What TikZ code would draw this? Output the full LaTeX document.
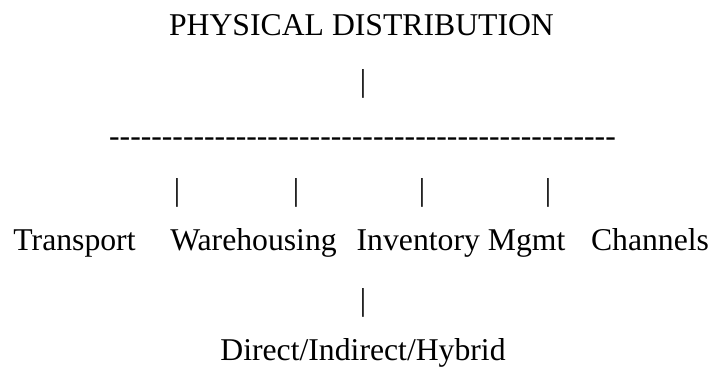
\documentclass[tikz,border=0pt]{standalone}
\usepackage{fontspec}
\setmainfont{Liberation Serif}
\newcommand\onedash{-\kern0pt}
\newcommand\dashrow{\foreach \i in {1,...,48}{\onedash}}
\begin{document}
\begin{tikzpicture}[x=1pt,y=-1pt,
  txt/.style={inner sep=0pt,outer sep=0pt,anchor=base,font=\fontsize{31.7}{36}\selectfont},
  bar/.style={inner sep=0pt,outer sep=0pt,anchor=center,font=\fontsize{31.7}{36}\selectfont}]
\useasboundingbox[fill=white] (0,0) rectangle (714,373);
\node[txt] (title) at (361.5,35.5) {PHYSICAL DISTRIBUTION};
\node[bar] (p0) at (363,84) {|};
\node[txt] (dash) at (362.5,146) {\dashrow};
\node[bar] (p1) at (177,193) {|};
\node[bar] (p2) at (296,193) {|};
\node[bar] (p3) at (422,193) {|};
\node[bar] (p4) at (548,193) {|};
\node[txt] (transport) at (74.5,250) {Transport};
\node[txt] (warehousing) at (253.5,250) {Warehousing};
\node[txt] (inventory) at (461,250) {Inventory Mgmt};
\node[txt] (channels) at (650,250) {Channels};
\node[bar] (p5) at (363,303) {|};
\node[txt] (dih) at (363,360) {Direct/Indirect/Hybrid};
\end{tikzpicture}
\end{document}
